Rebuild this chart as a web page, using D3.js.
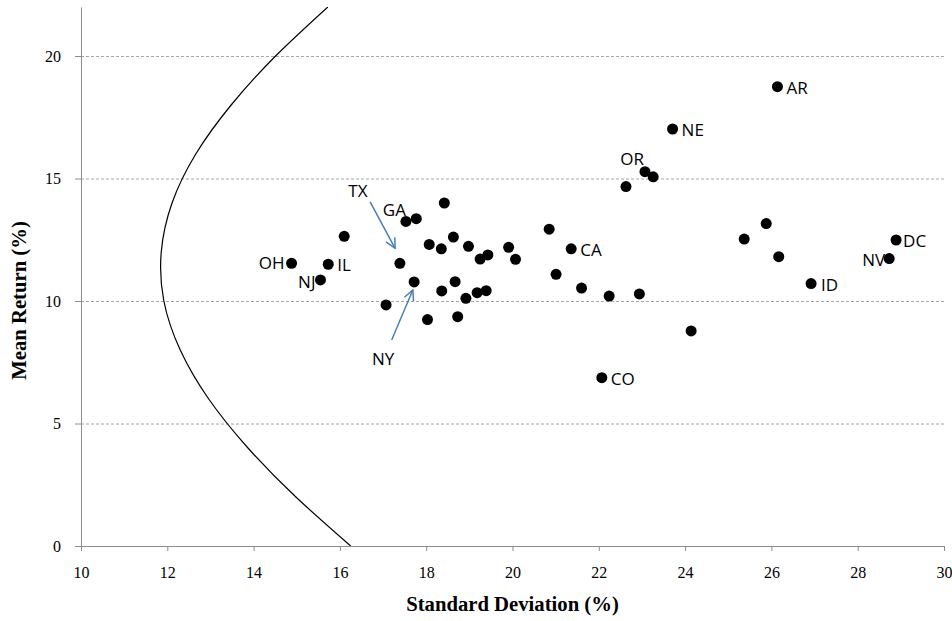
<!DOCTYPE html>
<html>
<head>
    <meta charset="utf-8" />
    <title>Mean return vs standard deviation by state</title>
    <script src="https://cdn.jsdelivr.net/npm/d3@7"></script>
    <style>
        body { margin: 0; background: #fff; }
        .axis path, .axis line { stroke: #8c8c8c; }
        .axis text { font-family: "Liberation Serif", "Times New Roman", serif; font-size: 16px; fill: #000; }
        .grid line { stroke: #a6a6a6; stroke-dasharray: 3,2; }
        .frontier { fill: none; stroke: #000; stroke-width: 1.2px; }
        .dot { fill: #000; }
        .lbl { font-family: "Open Sans", sans-serif; font-size: 17px; fill: #000; }
        .arrow { stroke: #4a7ebb; stroke-width: 1.5px; fill: none; }
        .title { font-family: "Liberation Serif", "Times New Roman", serif; font-weight: bold; font-size: 20.7px; }
    </style>
</head>
<body>
<script>
    // states ('' = unlabelled point), standard deviation (%) and mean return (%)
    var states = ['OH', 'IL', 'NJ', '', 'TX', 'NY', 'GA', '', '', '', '', '', '', '', '', '', '',
        '', 'CA', '', '', '', '', '', '', '', '', '', '', '', '', '', 'OR', '', 'NE', 'AR',
        '', '', '', 'DC', 'NV', 'ID', '', 'CO'];
    var stdev = [14.88, 15.73, 15.55, 16.10, 17.39, 17.72, 17.53, 17.77, 18.42, 18.07, 18.35, 18.63, 18.98,
        19.25, 19.43, 19.91, 20.07, 20.85, 21.36, 21.01, 21.60, 22.24, 22.94, 18.36, 18.67, 18.92,
        19.18, 19.39, 17.07, 18.03, 18.73, 22.63, 23.07, 23.26, 23.71, 26.14, 25.88, 25.37, 26.17,
        28.89, 28.73, 26.92, 24.14, 22.07];
    var meanRet = [11.54, 11.50, 10.86, 12.64, 11.54, 10.78, 13.25, 13.36, 14.00, 12.31, 12.13, 12.61, 12.23,
        11.71, 11.88, 12.19, 11.70, 12.93, 12.13, 11.09, 10.53, 10.20, 10.29, 10.41, 10.79, 10.11,
        10.34, 10.42, 9.84, 9.24, 9.36, 14.67, 15.28, 15.07, 17.02, 18.75, 13.16, 12.53, 11.81,
        12.49, 11.73, 10.71, 8.78, 6.87];

    // efficient frontier
    var frontierSd = [16.25, 14.98, 13.87, 12.96, 12.30, 11.92, 11.86, 12.11, 12.66, 13.48, 14.51, 15.72];
    var frontierMean = [0, 2, 4, 6, 8, 10, 12, 14, 16, 18, 20, 22];

    var xTicks = [10, 12, 14, 16, 18, 20, 22, 24, 26, 28, 30];
    var yTicks = [0, 5, 10, 15, 20];

    // arrows for TX and NY: [sd start, mean start, sd end, mean end]
    var arrows = [[16.70, 14.05, 17.28, 12.15], [17.20, 8.41, 17.69, 10.45]];

    // label placement relative to the point
    var labelPos = {
        OH: [-7, 0, 'end'], NJ: [-5, 2, 'end'], IL: [9, 1, 'start'], TX: [-42, -72, 'middle'],
        GA: [0, -11, 'end'], NY: [-31, 77, 'middle'], CA: [9, 1, 'start'], OR: [-1, -13, 'end'],
        NE: [9, 1, 'start'], AR: [9, 1, 'start'], DC: [7, 1, 'start'], NV: [-4, 1, 'end'],
        ID: [10, 1, 'start'], CO: [9, 1.5, 'start']
    };

    var W = 952, H = 621;
    var plotL = 81, plotR = 944, plotT = 7, plotB = 546;

    var x = d3.scaleLinear().domain([10, 30]).range([plotL, plotR]);
    var y = d3.scaleLinear().domain([0, 22]).range([plotB, plotT]);

    var svg = d3.select('body').append('svg')
        .attr('width', W)
        .attr('height', H);

    var defs = svg.append('defs');
    defs.append('clipPath').attr('id', 'plot')
        .append('rect').attr('x', plotL).attr('y', plotT)
        .attr('width', plotR - plotL).attr('height', plotB - plotT);

    var marker = defs.append('marker')
        .attr('id', 'head')
        .attr('viewBox', '0 0 12 12')
        .attr('refX', 11).attr('refY', 6)
        .attr('markerWidth', 12).attr('markerHeight', 12)
        .attr('markerUnits', 'userSpaceOnUse')
        .attr('orient', 'auto');
    marker.append('path')
        .attr('d', 'M1,1 L11,6 L1,11')
        .attr('fill', 'none')
        .attr('stroke', '#4a7ebb')
        .attr('stroke-width', 1.5);

    // gridlines
    svg.append('g').attr('class', 'grid')
        .selectAll('line').data(yTicks.filter(function(d) { return d > 0; }))
        .enter().append('line')
        .attr('x1', plotL).attr('x2', plotR)
        .attr('y1', function(d) { return y(d) + 0.5; })
        .attr('y2', function(d) { return y(d) + 0.5; });

    // axes
    svg.append('g').attr('class', 'axis')
        .attr('transform', 'translate(0,' + plotB + ')')
        .call(d3.axisBottom(x).tickValues(xTicks).tickSize(5).tickSizeOuter(0).tickPadding(16));

    svg.append('g').attr('class', 'axis')
        .attr('transform', 'translate(' + plotL + ',0)')
        .call(d3.axisLeft(y).tickValues(yTicks).tickSize(6).tickSizeOuter(0).tickPadding(14));

    // efficient frontier
    var frontier = d3.line()
        .x(function(d, i) { return x(frontierSd[i]); })
        .y(function(d, i) { return y(frontierMean[i]); })
        .curve(d3.curveNatural);
    svg.append('path')
        .datum(frontierMean)
        .attr('class', 'frontier')
        .attr('clip-path', 'url(#plot)')
        .attr('d', frontier);

    // points
    var pts = states.map(function(s, i) { return { name: s, sd: stdev[i], m: meanRet[i] }; });
    svg.append('g').selectAll('circle').data(pts)
        .enter().append('circle')
        .attr('class', 'dot')
        .attr('cx', function(d) { return x(d.sd); })
        .attr('cy', function(d) { return y(d.m); })
        .attr('r', 5.5);

    // arrows
    svg.append('g').selectAll('line').data(arrows)
        .enter().append('line')
        .attr('class', 'arrow')
        .attr('x1', function(d) { return x(d[0]); })
        .attr('y1', function(d) { return y(d[1]); })
        .attr('x2', function(d) { return x(d[2]); })
        .attr('y2', function(d) { return y(d[3]); })
        .attr('marker-end', 'url(#head)');

    // labels
    svg.append('g').selectAll('text').data(pts.filter(function(d) { return d.name; }))
        .enter().append('text')
        .attr('class', 'lbl')
        .attr('x', function(d) { return x(d.sd) + labelPos[d.name][0]; })
        .attr('y', function(d) { return y(d.m) + labelPos[d.name][1]; })
        .attr('dy', '0.36em')
        .attr('text-anchor', function(d) { return labelPos[d.name][2]; })
        .text(function(d) { return d.name; });

    // axis titles
    svg.append('text')
        .attr('class', 'title')
        .attr('x', (plotL + plotR) / 2)
        .attr('y', 611)
        .attr('text-anchor', 'middle')
        .text('Standard Deviation (%)');

    svg.append('text')
        .attr('class', 'title')
        .attr('transform', 'translate(26,' + ((plotT + plotB) / 2 + 24) + ') rotate(-90)')
        .attr('text-anchor', 'middle')
        .text('Mean Return (%)');
</script>
</body>
</html>
